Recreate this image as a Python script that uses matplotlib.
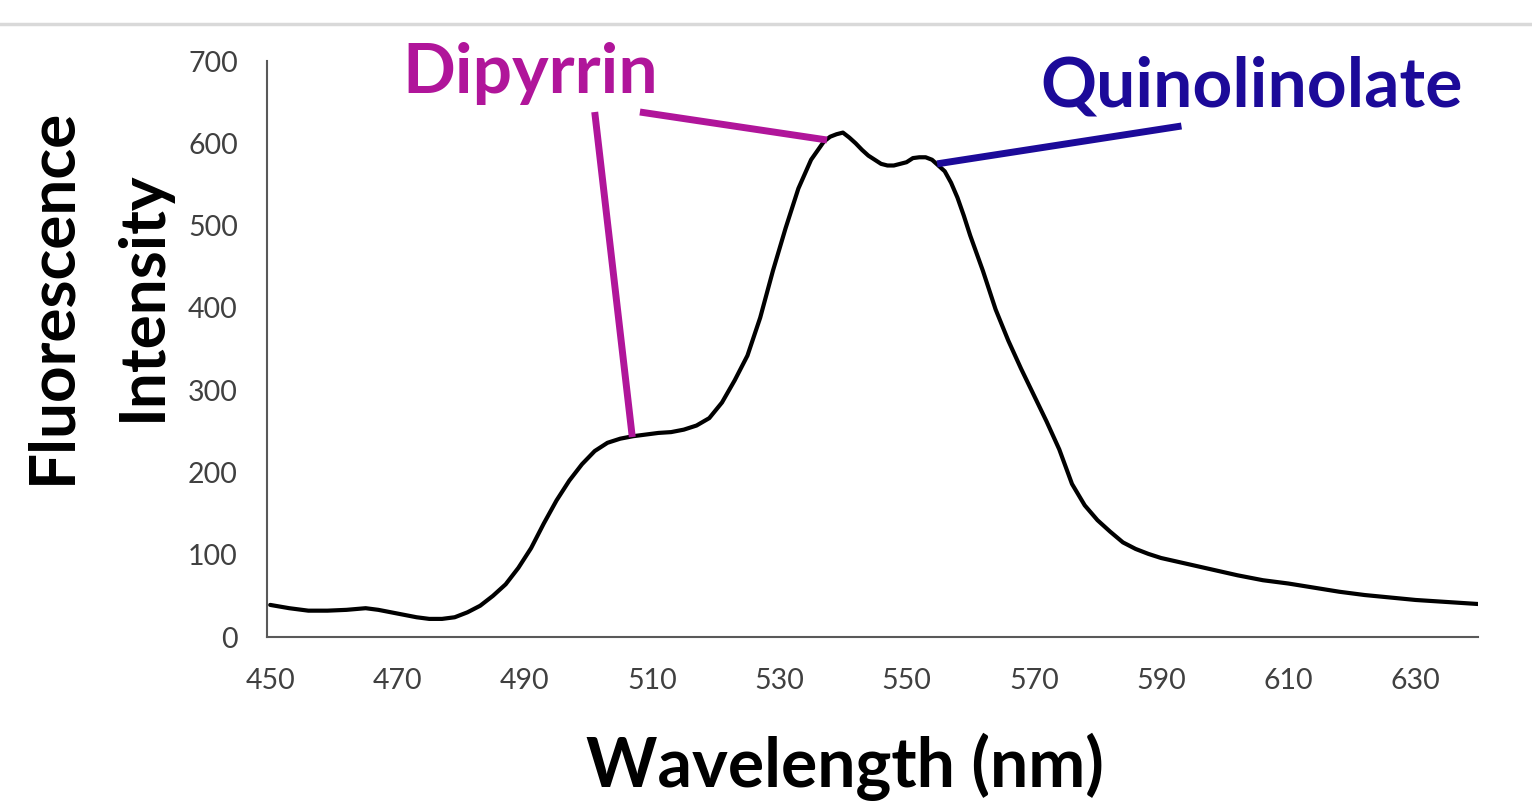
import matplotlib
matplotlib.use("Agg")
import matplotlib.pyplot as plt
from matplotlib.lines import Line2D

# ---- data ----
wavelength = [450, 453, 456, 459, 462, 465, 467, 469, 471, 473, 475, 477, 479, 481, 483,
              485, 487, 489, 491, 493, 495, 497, 499, 501, 503, 505, 507, 509, 511, 513,
              515, 517, 519, 521, 523, 525, 527, 529, 531, 533, 535, 536, 537, 538, 539,
              540, 541, 542, 543, 544, 545, 546, 547, 548, 549, 550, 551, 552, 553, 554,
              555, 556, 557, 558, 559, 560, 562, 564, 566, 568, 570, 572, 574, 576, 578,
              580, 582, 584, 586, 588, 590, 594, 598, 602, 606, 610, 614, 618, 622, 626,
              630, 634, 638, 640]
intensity = [39, 35, 32, 32, 33, 35, 33, 30, 27, 24, 22, 22, 24, 30, 38,
             50, 64, 84, 108, 138, 166, 190, 210, 226, 236, 241, 244, 246, 248, 249,
             252, 257, 266, 285, 312, 342, 388, 445, 497, 545, 580, 591, 602, 608, 611,
             613, 607, 600, 592, 585, 580, 575, 573, 573, 575, 577, 582, 583, 583, 580,
             573, 566, 552, 534, 512, 488, 445, 398, 360, 326, 294, 262, 228, 186, 160,
             142, 128, 115, 107, 101, 96, 89, 82, 75, 69, 65, 60, 55, 51, 48,
             45, 43, 41, 40]

x_ticks = [450, 470, 490, 510, 530, 550, 570, 590, 610, 630]
y_ticks = [0, 100, 200, 300, 400, 500, 600, 700]

x_label = "Wavelength (nm)"
y_label_line1 = "Fluorescence"
y_label_line2 = "Intensity"
label_dipyrrin = "Dipyrrin"
label_quinolinolate = "Quinolinolate"

# annotation pointer lines (data coords)
dipyrrin_line1 = ([501.0, 506.9], [638, 243])
dipyrrin_line2 = ([508.1, 537.5], [638, 604])
quino_line = ([593.2, 554.8], [621, 575])

c_dip = "#B0159A"
c_quino = "#1C0A99"

plt.rcParams['font.family'] = ['Lato', 'DejaVu Sans']

fig = plt.figure(figsize=(15.32, 8.08), dpi=100)
ax = fig.add_axes([267/1532, 1-637/808, (1478-267)/1532, (637-61)/808])

ax.plot(wavelength, intensity, color="black", lw=3.0, solid_capstyle="round",
        solid_joinstyle="round")
ax.set_xlim(449.5, 639.8)
ax.set_ylim(0, 700)
ax.set_xticks(x_ticks)
ax.set_yticks(y_ticks)
ax.tick_params(length=0, labelsize=20.5, colors="#404040")
ax.tick_params(axis='y', pad=21)
ax.tick_params(axis='x', pad=22)
for s in ["top", "right"]:
    ax.spines[s].set_visible(False)
for s in ["left", "bottom"]:
    ax.spines[s].set_color("#595959")
    ax.spines[s].set_linewidth(1.5)

ax.plot(*dipyrrin_line1, color=c_dip, lw=5, clip_on=False, solid_capstyle="butt")
ax.plot(*dipyrrin_line2, color=c_dip, lw=5, clip_on=False, solid_capstyle="butt")
ax.plot(*quino_line, color=c_quino, lw=5, clip_on=False, solid_capstyle="butt")

fig.text(530/1532, 1-93/808, label_dipyrrin, color=c_dip, fontsize=50,
         fontweight="bold", ha="center", va="baseline")
fig.text(1252/1532, 1-106/808, label_quinolinolate, color=c_quino, fontsize=50,
         fontweight="bold", ha="center", va="baseline")

fig.text(845/1532, 1-787/808, x_label, fontsize=49, fontweight="bold",
         ha="center", va="baseline")
fig.text(52/1532, 1-296/808, y_label_line1, fontsize=46, fontweight="bold",
         ha="center", va="center", rotation=90)
fig.text(142/1532, 1-296/808, y_label_line2, fontsize=46, fontweight="bold",
         ha="center", va="center", rotation=90)

fig.add_artist(Line2D([0, 1], [1-23.5/808, 1-23.5/808], color="#d9d9d9", lw=2.5,
                      transform=fig.transFigure))

fig.savefig("out.png", dpi=100)
